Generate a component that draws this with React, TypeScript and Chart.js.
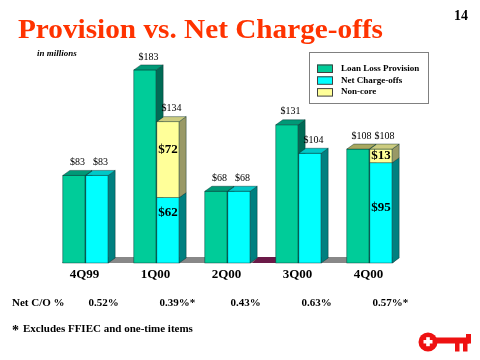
import React, { useEffect, useRef } from "react";
import { Chart, registerables } from "chart.js";

Chart.register(...registerables);

const categories = ["4Q99", "1Q00", "2Q00", "3Q00", "4Q00"];
const provision = [83, 183, 68, 131, 108];
const netChargeOffs = [83, 62, 68, 104, 95];
const nonCore = [0, 72, 0, 0, 13];
const netCoPct = ["0.52%", "0.39%*", "0.43%", "0.63%", "0.57%*"];
const seriesNames = ["Loan Loss Provision", "Net Charge-offs", "Non-core"];

const SERIF = "'Liberation Serif', 'Times New Roman', serif";
const DX = 7;
const DY = 5;

const FACE = [
  { front: "#00CC99", top: "#009977", side: "#006B55" },
  { front: "#00FFFF", top: "#00C8C8", side: "#008080" },
  { front: "#FFFF99", top: "#CCCC80", side: "#999966" },
];

function box(ctx: CanvasRenderingContext2D, el: any, face: any, drawTop: boolean, topColor?: string) {
  const left = el.x - el.width / 2;
  const right = el.x + el.width / 2;
  const top = Math.min(el.y, el.base);
  const bottom = Math.max(el.y, el.base);
  ctx.save();
  ctx.lineWidth = 0.6;
  ctx.strokeStyle = "rgba(0,40,40,0.7)";
  ctx.fillStyle = face.front;
  ctx.fillRect(left, top, right - left, bottom - top);
  ctx.strokeRect(left, top, right - left, bottom - top);
  ctx.beginPath();
  ctx.moveTo(right, top);
  ctx.lineTo(right + DX, top - DY);
  ctx.lineTo(right + DX, bottom - DY);
  ctx.lineTo(right, bottom);
  ctx.closePath();
  ctx.fillStyle = face.side;
  ctx.fill();
  ctx.stroke();
  if (drawTop) {
    ctx.beginPath();
    ctx.moveTo(left, top);
    ctx.lineTo(left + DX, top - DY);
    ctx.lineTo(right + DX, top - DY);
    ctx.lineTo(right, top);
    ctx.closePath();
    ctx.fillStyle = topColor || face.top;
    ctx.fill();
    ctx.stroke();
  }
  ctx.restore();
}

function drawKey(ctx: CanvasRenderingContext2D) {
  ctx.save();
  ctx.fillStyle = "#EE1111";
  ctx.beginPath();
  ctx.arc(428, 342, 9.5, 0, Math.PI * 2);
  ctx.fill();
  ctx.fillRect(435, 337.5, 34, 6);
  ctx.fillRect(466, 334, 5, 9.5);
  ctx.fillRect(455, 341, 4.5, 10.5);
  ctx.fillRect(463, 341, 4.5, 10.5);
  ctx.fillStyle = "#FFFFFF";
  ctx.fillRect(423.5, 340, 9, 3.5);
  ctx.fillRect(426.2, 337.2, 3.6, 9);
  ctx.restore();
}

const decorPlugin = {
  id: "decor",
  beforeDatasetsDraw(chart: any) {
    const ctx: CanvasRenderingContext2D = chart.ctx;
    const m0 = chart.getDatasetMeta(0).data;
    const m1 = chart.getDatasetMeta(1).data;
    const n = categories.length;
    const base = m0[0].base;
    const FD = 6;
    const L = m0[0].x - m0[0].width / 2 - 1;
    const R = m1[n - 1].x + m1[n - 1].width / 2 + 1;
    ctx.save();
    ctx.fillStyle = "#888888";
    ctx.beginPath();
    ctx.moveTo(L, base);
    ctx.lineTo(L + FD, base - FD);
    ctx.lineTo(R + FD, base - FD);
    ctx.lineTo(R, base);
    ctx.closePath();
    ctx.fill();
    const gl = m1[2].x + m1[2].width / 2 + 2;
    const gr = m0[3].x - m0[3].width / 2;
    ctx.fillStyle = "#6B1A48";
    ctx.beginPath();
    ctx.moveTo(gl, base);
    ctx.lineTo(gl + FD, base - FD);
    ctx.lineTo(gr + FD, base - FD);
    ctx.lineTo(gr, base);
    ctx.closePath();
    ctx.fill();
    ctx.restore();
  },
  afterDatasetsDraw(chart: any) {
    const ctx: CanvasRenderingContext2D = chart.ctx;
    const m0 = chart.getDatasetMeta(0).data;
    const m1 = chart.getDatasetMeta(1).data;
    const m2 = chart.getDatasetMeta(2).data;
    for (let i = 0; i < categories.length; i++) {
      const hasNC = nonCore[i] > 0;
      box(ctx, m0[i], FACE[0], true, i === categories.length - 1 ? "#A8A860" : undefined);
      box(ctx, m1[i], FACE[1], !hasNC);
      if (hasNC) box(ctx, m2[i], FACE[2], true);
    }
    ctx.save();
    ctx.fillStyle = "#000";
    ctx.textAlign = "center";
    ctx.textBaseline = "middle";
    ctx.font = `10px ${SERIF}`;
    for (let i = 0; i < categories.length; i++) {
      const p = m0[i];
      ctx.fillText(`$${provision[i]}`, p.x + DX / 2, p.y - 13);
      const topEl = nonCore[i] > 0 ? m2[i] : m1[i];
      ctx.fillText(`$${netChargeOffs[i] + nonCore[i]}`, topEl.x + DX / 2, topEl.y - 13);
    }
    ctx.font = `bold 13px ${SERIF}`;
    for (let i = 0; i < categories.length; i++) {
      if (nonCore[i] > 0) {
        const a = m2[i];
        const b = m1[i];
        ctx.fillText(`$${nonCore[i]}`, a.x, (a.y + a.base) / 2 - (a.base - a.y > 30 ? 10 : 0));
        ctx.fillText(`$${netChargeOffs[i]}`, b.x, (b.y + b.base) / 2 - (b.base - b.y > 80 ? 5 : 18));
      }
    }
    ctx.font = `bold 13px ${SERIF}`;
    const base = m0[0].base;
    for (let i = 0; i < categories.length; i++) {
      const cx = (m0[i].x + m1[i].x) / 2;
      ctx.fillText(categories[i], cx - 1, base + 12);
    }
    ctx.restore();
  },
  afterDraw(chart: any) {
    const ctx: CanvasRenderingContext2D = chart.ctx;
    ctx.save();
    // title, stretched to the reference width
    const title = "Provision vs. Net Charge-offs";
    ctx.font = `bold 28px ${SERIF}`;
    ctx.textBaseline = "alphabetic";
    ctx.textAlign = "left";
    const w = ctx.measureText(title).width;
    ctx.save();
    ctx.translate(18, 37.5);
    ctx.scale(365 / w, 1);
    ctx.fillStyle = "#FF3300";
    ctx.fillText(title, 0, 0);
    ctx.restore();

    ctx.fillStyle = "#000";
    ctx.font = `bold 14px ${SERIF}`;
    ctx.textAlign = "center";
    ctx.textBaseline = "middle";
    ctx.fillText("14", 461, 16);
    ctx.font = `italic bold 9px ${SERIF}`;
    ctx.textAlign = "left";
    ctx.fillText("in millions", 37, 54);

    ctx.fillStyle = "#FFFFFF";
    ctx.fillRect(309.5, 52.5, 119, 51);
    ctx.strokeStyle = "#808080";
    ctx.lineWidth = 1;
    ctx.strokeRect(309.5, 52.5, 119, 51);
    ctx.font = `bold 9px ${SERIF}`;
    for (let k = 0; k < seriesNames.length; k++) {
      const y = 68.5 + k * 11.8;
      ctx.fillStyle = FACE[k].front;
      ctx.fillRect(317, y - 4, 15.5, 8);
      ctx.strokeStyle = "#404040";
      ctx.strokeRect(317.5, y - 3.5, 15, 7.5);
      ctx.fillStyle = "#000";
      ctx.fillText(seriesNames[k], 341, y);
    }

    const m0 = chart.getDatasetMeta(0).data;
    const m1 = chart.getDatasetMeta(1).data;
    ctx.font = `bold 11px ${SERIF}`;
    ctx.textAlign = "left";
    ctx.fillText("Net C/O %", 12, 303);
    for (let i = 0; i < netCoPct.length; i++) {
      const cx = (m0[i].x + m1[i].x) / 2;
      ctx.fillText(netCoPct[i], cx + 3, 303);
    }
    ctx.font = `bold 14px ${SERIF}`;
    ctx.fillText("*", 12, 331);
    ctx.font = `bold 11px ${SERIF}`;
    ctx.fillText("Excludes FFIEC and one-time items", 23, 329);
    drawKey(ctx);
    ctx.restore();
  },
};

export default function App() {
  const ref = useRef<HTMLCanvasElement>(null);
  useEffect(() => {
    if (!ref.current) return;
    const chart = new Chart(ref.current, {
      type: "bar",
      data: {
        labels: categories,
        datasets: [
          { label: seriesNames[0], data: provision, stack: "p", backgroundColor: FACE[0].front, borderWidth: 0 },
          { label: seriesNames[1], data: netChargeOffs, stack: "n", backgroundColor: FACE[1].front, borderWidth: 0 },
          { label: seriesNames[2], data: nonCore, stack: "n", backgroundColor: FACE[2].front, borderWidth: 0 },
        ],
      },
      options: {
        animation: false,
        responsive: false,
        devicePixelRatio: 1,
        categoryPercentage: 0.648,
        barPercentage: 0.97,
        layout: { padding: { left: 50, right: 75, top: 52, bottom: 97 } },
        scales: {
          x: { display: false, stacked: true },
          y: { display: false, stacked: true, min: 0, max: 200 },
        },
        plugins: { legend: { display: false }, tooltip: { enabled: false } },
      },
      plugins: [decorPlugin],
    } as any);
    return () => chart.destroy();
  }, []);
  return (
    <div style={{ position: "absolute", left: 0, top: 0, width: 480, height: 360, background: "#fff" }}>
      <canvas ref={ref} width={480} height={360} style={{ display: "block" }} />
    </div>
  );
}
